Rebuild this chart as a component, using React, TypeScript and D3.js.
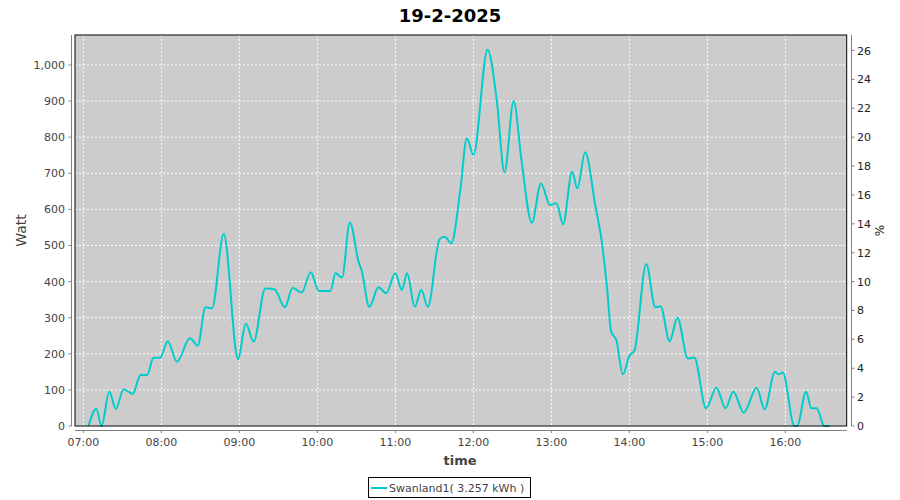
import React from "react";
import * as d3 from "d3";

const TITLE = "19-2-2025";
const times: string[] = [
  "07:04","07:10","07:14","07:20","07:25","07:31","07:38","07:44","07:49","07:54",
  "07:59","08:05","08:12","08:22","08:28","08:34","08:39","08:48","08:59","09:05",
  "09:11","09:20","09:27","09:35","09:41","09:48","09:55","10:01","10:10","10:14",
  "10:19","10:25","10:32","10:34","10:40","10:47","10:53","11:00","11:05","11:09",
  "11:15","11:20","11:25","11:34","11:38","11:43","11:50","11:55","12:00","12:11",
  "12:18","12:24","12:31","12:37","12:45","12:52","12:59","13:04","13:09","13:16",
  "13:20","13:26","13:34","13:39","13:43","13:46","13:50","13:55","14:00","14:04",
  "14:13","14:20","14:24","14:31","14:37","14:45","14:50","14:59","15:07","15:14",
  "15:20","15:28","15:38","15:44","15:52","15:55","15:58","16:07","16:09","16:16",
  "16:20","16:24","16:30","16:34"
];
const watts: number[] = [
  0,48,0,95,47,102,89,141,141,189,
  189,235,178,243,223,329,326,532,185,283,
  234,381,379,329,382,370,426,374,374,423,
  411,564,451,432,330,384,368,423,377,423,
  330,377,330,517,524,506,654,797,751,1042,
  903,703,900,737,563,672,612,617,559,704,
  658,758,607,506,377,261,238,143,194,210,
  449,329,332,235,300,187,190,49,106,49,
  95,37,106,46,150,143,148,0,0,95,
  49,49,0,0
];
const xTickLabels: string[] = ["07:00","08:00","09:00","10:00","11:00","12:00","13:00","14:00","15:00","16:00"];
const leftTicks: number[] = [0,100,200,300,400,500,600,700,800,900,1000];
const rightTicks: number[] = [0,2,4,6,8,10,12,14,16,18,20,22,24,26];
const LEGEND_LABEL = "Swanland1( 3.257 kWh )";
const Y_LABEL = "Watt";
const Y2_LABEL = "%";
const X_LABEL = "time";

const toDate = (s: string, sec = 0) => {
  const [h, m] = s.split(":").map(Number);
  return new Date(2025, 1, 19, h, m, sec);
};

export default function App() {
  const W = 900, H = 500;
  const L = 75, R = 846.7, T = 35, B = 426;
  const font = "DejaVu Sans";
  const x = d3.scaleTime()
    .domain([new Date(2025, 1, 19, 6, 53, 36), new Date(2025, 1, 19, 16, 47, 12)])
    .range([L, R]);
  const y = d3.scaleLinear().domain([0, 1083]).range([B, T]);
  const y2 = d3.scaleLinear().domain([0, 1083 / 40]).range([B, T]);
  const data = times.map((t, i) => ({ t: toDate(t), v: watts[i] }));
  const line = d3.line<{ t: Date; v: number }>()
    .x(d => x(d.t)).y(d => y(d.v)).curve(d3.curveMonotoneX);
  const fmt = d3.timeFormat("%H:%M");
  const xTicks = xTickLabels.map(s => toDate(s));
  const axisCol = "#808080";
  const txtCol = "#444444";

  return (
    <svg width={W} height={H} style={{ position: "absolute", left: 0, top: 0, background: "#fff" }}
      fontFamily={font}>
      <text x={450} y={22} textAnchor="middle" fontSize={18} fontWeight="bold" fill="#000">{TITLE}</text>
      <rect x={L} y={T} width={R - L} height={B - T} fill="#cccccc" />
      {leftTicks.map(v => (
        <line key={"gh" + v} x1={L} x2={R} y1={y(v)} y2={y(v)} stroke="#fff" strokeDasharray="2,2" />
      ))}
      {xTicks.map((d, i) => (
        <line key={"gv" + i} x1={x(d)} x2={x(d)} y1={T} y2={B} stroke="#fff" strokeDasharray="2,2" />
      ))}
      <clipPath id="clip"><rect x={L} y={T - 2} width={R - L} height={B - T + 4} /></clipPath>
      <path d={line(data) || ""} fill="none" stroke="#00cccc" strokeWidth={2} clipPath="url(#clip)" />
      <rect x={L} y={T} width={R - L} height={B - T} fill="none" stroke="#000" strokeWidth={1} />

      {/* left axis */}
      <line x1={71.5} x2={71.5} y1={T} y2={B} stroke={axisCol} />
      {leftTicks.map(v => (
        <g key={"lt" + v}>
          <line x1={68.5} x2={71.5} y1={y(v)} y2={y(v)} stroke={axisCol} />
          <text x={65} y={y(v) + 4} textAnchor="end" fontSize={11} fill={txtCol}>{d3.format(",")(v)}</text>
        </g>
      ))}
      <text transform={`translate(26,${(T + B) / 2}) rotate(-90)`} textAnchor="middle" fontSize={14} fill={txtCol}>{Y_LABEL}</text>

      {/* right axis */}
      <line x1={851.5} x2={851.5} y1={T} y2={B} stroke={axisCol} />
      {rightTicks.map(v => (
        <g key={"rt" + v}>
          <line x1={851.5} x2={854.5} y1={y2(v)} y2={y2(v)} stroke={axisCol} />
          <text x={857} y={y2(v) + 4} textAnchor="start" fontSize={11} fill="#222">{v}</text>
        </g>
      ))}
      <text transform={`translate(884,${(T + B) / 2}) rotate(-90)`} textAnchor="middle" fontSize={12} fill="#222">{Y2_LABEL}</text>

      {/* bottom axis */}
      <line x1={L} x2={R} y1={430.5} y2={430.5} stroke={axisCol} />
      {xTicks.map((d, i) => (
        <g key={"xt" + i}>
          <line x1={x(d)} x2={x(d)} y1={430.5} y2={433} stroke={axisCol} />
          <text x={x(d)} y={446} textAnchor="middle" fontSize={11} fill={txtCol}>{fmt(d)}</text>
        </g>
      ))}
      <text x={460} y={465} textAnchor="middle" fontSize={13} fontWeight="bold" fill={txtCol}>{X_LABEL}</text>

      {/* legend */}
      <rect x={368.5} y={477.5} width={162} height={20} fill="#fff" stroke="#000" />
      <line x1={371} x2={387} y1={488} y2={488} stroke="#00cccc" strokeWidth={2} />
      <text x={389} y={492} fontSize={11} fill={txtCol}>{LEGEND_LABEL}</text>
    </svg>
  );
}
